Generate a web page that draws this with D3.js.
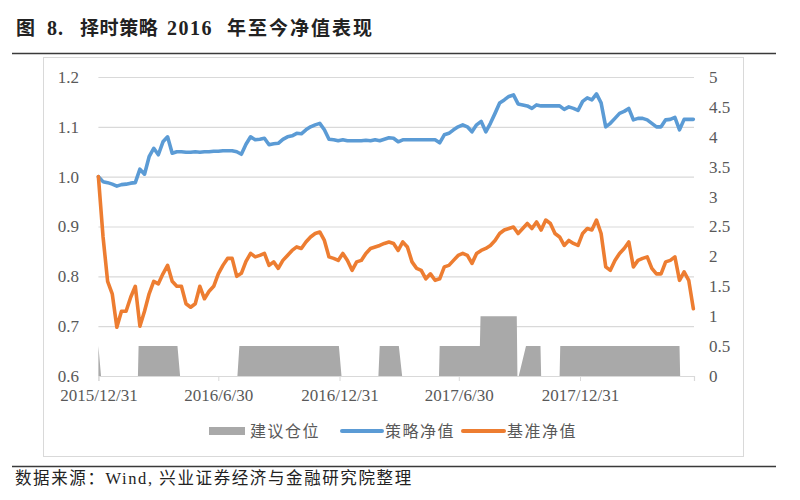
<!DOCTYPE html>
<html>
<head>
<meta charset="utf-8">
<script src="https://cdn.jsdelivr.net/npm/d3@7"></script>
<style>
  html, body { margin: 0; padding: 0; background: #fff; }
  svg { display: block; }
</style>
</head>
<body>
<div id="chart"></div>
<script>
// ---------------- DATA ----------------
const startDate = "2015-12-31";
const endDate = "2018-06-22";
const weekStep = 7; // sampled weekly from the picture

const strategyNav = [
  1.000, 0.990, 0.988, 0.985, 0.981, 0.984, 0.985, 0.987, 0.988, 1.015,
  1.005, 1.040, 1.057, 1.044, 1.070, 1.080, 1.047, 1.050, 1.050, 1.049,
  1.049, 1.050, 1.049, 1.050, 1.050, 1.051, 1.051, 1.052, 1.052, 1.052,
  1.050, 1.045, 1.065, 1.080, 1.074, 1.075, 1.077, 1.064, 1.066, 1.067,
  1.075, 1.080, 1.082, 1.087, 1.086, 1.094, 1.100, 1.104, 1.107, 1.094,
  1.075, 1.074, 1.072, 1.074, 1.072, 1.072, 1.072, 1.072, 1.073, 1.072,
  1.074, 1.072, 1.075, 1.078, 1.077, 1.070, 1.074, 1.074, 1.074, 1.074,
  1.074, 1.074, 1.074, 1.074, 1.068, 1.084, 1.087, 1.094, 1.100, 1.104,
  1.100, 1.090, 1.104, 1.111, 1.090, 1.107, 1.127, 1.148, 1.154, 1.161,
  1.164, 1.146, 1.144, 1.142, 1.137, 1.144, 1.142, 1.142, 1.142, 1.142,
  1.142, 1.135, 1.140, 1.137, 1.133, 1.151, 1.158, 1.154, 1.166, 1.148,
  1.100, 1.107, 1.117, 1.127, 1.131, 1.137, 1.114, 1.117, 1.117, 1.114,
  1.107, 1.100, 1.100, 1.114, 1.115, 1.119, 1.094, 1.115, 1.115, 1.115
];

const benchmarkNav = [
  1.000, 0.880, 0.790, 0.765, 0.698, 0.730, 0.730, 0.758, 0.780, 0.700,
  0.730, 0.765, 0.790, 0.785, 0.805, 0.822, 0.790, 0.780, 0.780, 0.745,
  0.738, 0.745, 0.780, 0.755, 0.770, 0.780, 0.805, 0.822, 0.836, 0.836,
  0.800, 0.806, 0.830, 0.846, 0.839, 0.842, 0.846, 0.822, 0.829, 0.816,
  0.832, 0.842, 0.852, 0.859, 0.856, 0.869, 0.879, 0.886, 0.889, 0.872,
  0.839, 0.836, 0.832, 0.846, 0.832, 0.812, 0.829, 0.832, 0.846, 0.856,
  0.859, 0.862, 0.866, 0.869, 0.866, 0.852, 0.869, 0.859, 0.829, 0.816,
  0.812, 0.795, 0.805, 0.792, 0.795, 0.819, 0.822, 0.832, 0.842, 0.846,
  0.842, 0.826, 0.846, 0.852, 0.856, 0.862, 0.872, 0.886, 0.893, 0.896,
  0.899, 0.886, 0.896, 0.906, 0.896, 0.909, 0.893, 0.913, 0.906, 0.886,
  0.879, 0.862, 0.872, 0.866, 0.862, 0.886, 0.896, 0.893, 0.913, 0.886,
  0.819, 0.812, 0.832, 0.846, 0.856, 0.869, 0.819, 0.832, 0.836, 0.839,
  0.816, 0.805, 0.805, 0.829, 0.832, 0.839, 0.792, 0.809, 0.792, 0.735
];

// suggested position (right axis), change points
const positionDates = [
  "2015-12-31", "2016-01-04",
  "2016-02-29", "2016-03-01", "2016-04-29", "2016-05-03",
  "2016-07-29", "2016-08-01", "2016-12-30", "2017-01-03",
  "2017-02-28", "2017-03-02", "2017-03-31", "2017-04-05",
  "2017-05-31", "2017-06-01", "2017-08-01", "2017-08-02", "2017-09-26", "2017-09-27",
  "2017-09-29", "2017-10-10", "2017-11-01", "2017-11-02",
  "2017-11-30", "2017-12-01", "2018-05-31", "2018-06-01",
  "2018-06-21"
];
const positionValues = [
  0.5, 0,
  0, 0.5, 0.5, 0,
  0, 0.5, 0.5, 0,
  0, 0.5, 0.5, 0,
  0, 0.5, 0.5, 1, 1, 0,
  0, 0.5, 0.5, 0,
  0, 0.5, 0.5, 0,
  0
];

const xTickDates = ["2015-12-31", "2016-06-30", "2016-12-31", "2017-06-30", "2017-12-31"];
const xTickLabels = ["2015/12/31", "2016/6/30", "2016/12/31", "2017/6/30", "2017/12/31"];
const leftTicks = [0.6, 0.7, 0.8, 0.9, 1.0, 1.1, 1.2];
const leftTickLabels = ["0.6", "0.7", "0.8", "0.9", "1.0", "1.1", "1.2"];
const rightTicks = [0, 0.5, 1, 1.5, 2, 2.5, 3, 3.5, 4, 4.5, 5];
const rightTickLabels = ["0", "0.5", "1", "1.5", "2", "2.5", "3", "3.5", "4", "4.5", "5"];

const seriesNames = ["建议仓位", "策略净值", "基准净值"];
const titleParts = ["图", "8.", "择时策略", "2016", "年至今净值表现"];
const sourceText = "数据来源：Wind, 兴业证券经济与金融研究院整理";

// ---------------- DRAW ----------------
const W = 800, H = 500;
const parse = d3.utcParse("%Y-%m-%d");
const start = parse(startDate);

const strategyData = strategyNav.map((v, i) => ({ date: d3.utcDay.offset(start, i * weekStep), value: v }));
const benchmarkData = benchmarkNav.map((v, i) => ({ date: d3.utcDay.offset(start, i * weekStep), value: v }));
const positionData = positionDates.map((d, i) => ({ date: parse(d), value: positionValues[i] }));

const svg = d3.select("#chart").append("svg").attr("width", W).attr("height", H);
svg.append("rect").attr("width", W).attr("height", H).attr("fill", "#fff");

const serif = "'Liberation Serif', 'Times New Roman', 'Noto Sans CJK SC', serif";
const cjk = "'Liberation Serif', 'Noto Sans CJK SC', serif";

// title
const titleX = [16, 47, 80, 167, 227];
const titleSpacing = [0, 1, 0.6, 1.5, 2];
const titleSize = [19, 20, 19, 20, 19];
const title = svg.append("text").attr("y", 35).attr("font-family", cjk)
  .attr("font-weight", "bold").attr("fill", "#222");
titleParts.forEach((t, i) => {
  title.append("tspan").attr("x", titleX[i]).attr("font-size", titleSize[i])
    .attr("letter-spacing", titleSpacing[i]).text(t);
});

// separator lines
svg.append("line").attr("x1", 12).attr("x2", 776).attr("y1", 53.5).attr("y2", 53.5)
  .attr("stroke", "#3a3a3a").attr("stroke-width", 1.3);
svg.append("line").attr("x1", 12).attr("x2", 776).attr("y1", 466.5).attr("y2", 466.5)
  .attr("stroke", "#3a3a3a").attr("stroke-width", 1.3);

// chart frame
svg.append("rect").attr("x", 43.5).attr("y", 57.5).attr("width", 700).attr("height", 399)
  .attr("fill", "none").attr("stroke", "#d9d9d9").attr("stroke-width", 1);

// scales
const x = d3.scaleUtc().domain([start, parse(endDate)]).range([98.4, 694]);
const yL = d3.scaleLinear().domain([0.6, 1.2]).range([376, 77]);
const yR = d3.scaleLinear().domain([0, 5]).range([376, 77]);

// gridlines
svg.append("g").attr("transform", "translate(98.4,0)")
  .call(d3.axisLeft(yL).tickValues(leftTicks.slice(1)).tickSize(-(694 - 98.4)).tickFormat(""))
  .call(g => g.select(".domain").remove())
  .call(g => g.selectAll("line").attr("stroke", "#d9d9d9").attr("stroke-width", 1.2));

// position area
const area = d3.area().x(d => x(d.date)).y0(yR(0)).y1(d => yR(d.value));
svg.append("path").datum(positionData).attr("d", area).attr("fill", "#a9a9a9");

// x axis
const axisFont = 17;
const xAxis = svg.append("g").attr("transform", "translate(0,376)")
  .call(d3.axisBottom(x).tickValues(xTickDates.map(parse)).tickSize(5)
    .tickFormat((d, i) => xTickLabels[i]).tickPadding(8));
xAxis.select(".domain").attr("stroke", "#d9d9d9").attr("stroke-width", 1.2);
xAxis.selectAll(".tick line").attr("stroke", "#d9d9d9");
xAxis.selectAll(".tick text").attr("font-family", serif).attr("font-size", axisFont).attr("fill", "#595959");

// left axis labels
const lAxis = svg.append("g").attr("transform", "translate(79,0)")
  .call(d3.axisLeft(yL).tickValues(leftTicks).tickSize(0).tickPadding(0)
    .tickFormat((d, i) => leftTickLabels[i]));
lAxis.select(".domain").remove();
lAxis.selectAll("text").attr("font-family", serif).attr("font-size", axisFont).attr("fill", "#595959");

// right axis labels
const rAxis = svg.append("g").attr("transform", "translate(709,0)")
  .call(d3.axisRight(yR).tickValues(rightTicks).tickSize(0).tickPadding(0)
    .tickFormat((d, i) => rightTickLabels[i]));
rAxis.select(".domain").remove();
rAxis.selectAll("text").attr("font-family", serif).attr("font-size", axisFont).attr("fill", "#595959");

// lines
const line = d3.line().x(d => x(d.date)).y(d => yL(d.value));
svg.append("path").datum(strategyData).attr("d", line).attr("fill", "none")
  .attr("stroke", "#5b9bd5").attr("stroke-width", 3.6).attr("stroke-linejoin", "round").attr("stroke-linecap", "round");
svg.append("path").datum(benchmarkData).attr("d", line).attr("fill", "none")
  .attr("stroke", "#ed7d31").attr("stroke-width", 3.6).attr("stroke-linejoin", "round").attr("stroke-linecap", "round");

// legend
const legY = 431;
const legend = svg.append("g");
legend.append("rect").attr("x", 209).attr("y", legY - 4).attr("width", 36).attr("height", 8).attr("fill", "#a9a9a9");
legend.append("line").attr("x1", 342).attr("x2", 382).attr("y1", legY).attr("y2", legY)
  .attr("stroke", "#5b9bd5").attr("stroke-width", 4).attr("stroke-linecap", "round");
legend.append("line").attr("x1", 463).attr("x2", 504).attr("y1", legY).attr("y2", legY)
  .attr("stroke", "#ed7d31").attr("stroke-width", 4).attr("stroke-linecap", "round");
const legX = [250, 385, 507];
seriesNames.forEach((n, i) => {
  legend.append("text").attr("x", legX[i]).attr("y", legY).attr("dy", "0.36em")
    .attr("font-family", cjk).attr("font-size", 16).attr("letter-spacing", 1.5)
    .attr("fill", "#595959").text(n);
});

// source
svg.append("text").attr("x", 15).attr("y", 484).attr("font-family", cjk)
  .attr("font-size", 16.5).attr("letter-spacing", 1.6).attr("fill", "#222").text(sourceText);
</script>
</body>
</html>
